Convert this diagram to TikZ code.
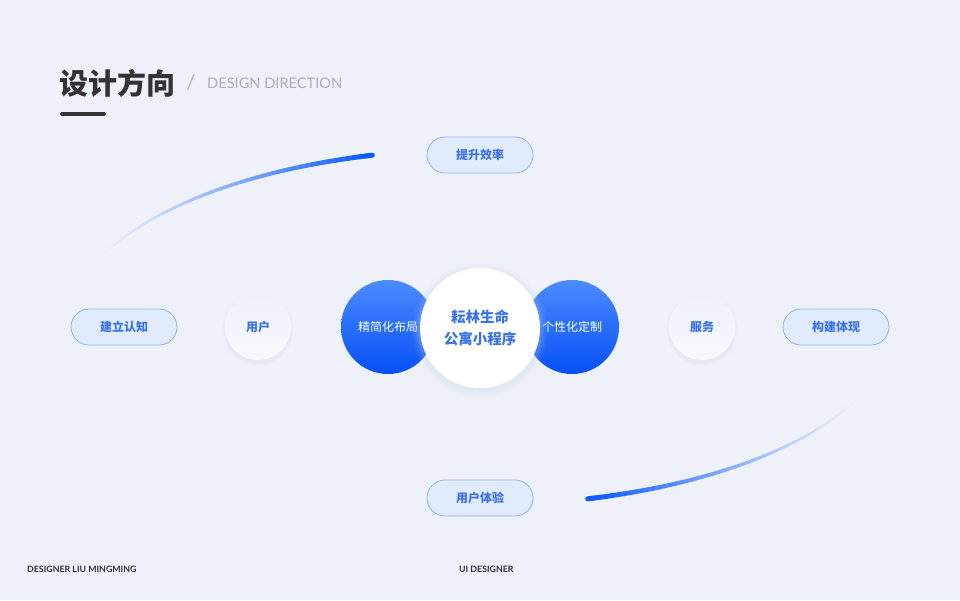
\documentclass[tikz,border=0pt]{standalone}
\usepackage{fontspec}
\setmainfont{Lato}
\newfontfamily\cjk{Noto Sans CJK SC}
\definecolor{bgc}{HTML}{EEF1F9}
\definecolor{pillfill}{HTML}{E1EBFE}
\definecolor{pillborder}{HTML}{8FB0F3}
\definecolor{textblue}{HTML}{3B73E6}
\definecolor{bluetop}{HTML}{4C8BFF}
\definecolor{bluebot}{HTML}{0650F5}
\definecolor{arcblue}{HTML}{0A5CFF}
\definecolor{dark}{HTML}{333333}
\definecolor{graytxt}{HTML}{AEB1B8}
\definecolor{glowc}{HTML}{C6D3F3}
\definecolor{softc}{HTML}{F7F9FE}
\begin{document}
\begin{tikzpicture}[x=1pt,y=-1pt,
  pill/.style={draw=pillborder, line width=0.8pt, fill=pillfill, rounded corners=18pt,
    minimum width=106pt, minimum height=36pt, inner sep=0pt, text=textblue,
    font=\cjk\bfseries\fontsize{12}{14}\selectfont},
  bluecirc/.style={circle, minimum size=94pt, inner sep=0pt, top color=bluetop,
    bottom color=bluebot, text=white, font=\cjk\fontsize{12}{14}\selectfont},
  softcirc/.style={circle, minimum size=66pt, inner sep=0pt, top color=bgc,
    bottom color=softc, text=textblue, font=\cjk\bfseries\fontsize{12}{14}\selectfont},
  arcseg/.style={line cap=round}]
\fill[bgc] (0,0) rectangle (960,600);
\useasboundingbox (0,0) rectangle (960,600);

% title
\node[anchor=west, inner sep=0pt, text=dark, font=\cjk\bfseries\fontsize{29}{32}\selectfont] (title) at (59,83) {设计方向};
\node[anchor=center, inner sep=0pt, text=graytxt, font=\fontsize{20}{22}\selectfont] (slash) at (191,83) {/};
\node[anchor=west, inner sep=0pt, text=graytxt, font=\fontsize{14.6}{18}\selectfont] (sub) at (207,83) {DESIGN DIRECTION};
\coordinate (barA) at (62,114);
\coordinate (barB) at (104,114);
\draw[dark, line width=3.6pt, line cap=round] (barA) -- (barB);

% gradient arcs
\foreach \i in {0,...,59}{
  \pgfmathsetmacro\ta{202+\i*0.88}
  \pgfmathsetmacro\tb{\ta+0.93}
  \pgfmathsetmacro\p{100*(\i/59)^1.5}
  \pgfmathsetmacro\w{1.2+3.8*(\i/59)}
  \draw[arcseg, line width=\w pt, arcblue!\p!bgc]
    ({480+412*cos(\ta)},{327+178*sin(\ta)}) -- ({480+412*cos(\tb)},{327+178*sin(\tb)});
  \pgfmathsetmacro\tc{22+\i*0.88}
  \pgfmathsetmacro\td{\tc+0.93}
  \draw[arcseg, line width=\w pt, arcblue!\p!bgc]
    ({480+412*cos(\tc)},{327+178*sin(\tc)}) -- ({480+412*cos(\td)},{327+178*sin(\td)});
}

% pills
\node[pill] (p1) at (480,155) {提升效率};
\node[pill] (p2) at (124,327) {建立认知};
\node[pill] (p3) at (836,327) {构建体现};
\node[pill] (p4) at (480,498) {用户体验};

% soft circles with glow
\foreach \cx in {258,702}{
  \foreach \r/\o in {36/0.04,35/0.06,34/0.08}{
    \fill[glowc, opacity=\o] (\cx,330) circle (\r);
  }
}
\node[softcirc] (u) at (258,327) {用户};
\node[softcirc] (s) at (702,327) {服务};

% blue circles
\node[bluecirc] (l) at (388,327) {精简化布局};
\node[bluecirc] (r) at (572,327) {个性化定制};

% center circle glow
\foreach \r/\o in {68/0.05,66/0.07,64/0.09,62/0.12}{
  \fill[glowc, opacity=\o] (480,330) circle (\r);
}
\node[circle, minimum size=120pt, inner sep=0pt, fill=white, text=textblue, align=center,
  font=\cjk\bfseries\fontsize{14.5}{22}\selectfont] (c) at (480,328) {耘林生命\\公寓小程序};

% footer
\node[anchor=west, inner sep=0pt, text=dark, font=\bfseries\fontsize{8.8}{11}\selectfont] (f1) at (27,569) {DESIGNER LIU MINGMING};
\node[anchor=west, inner sep=0pt, text=dark, font=\bfseries\fontsize{8.8}{11}\selectfont] (f2) at (459,569) {UI DESIGNER};
\end{tikzpicture}
\end{document}
